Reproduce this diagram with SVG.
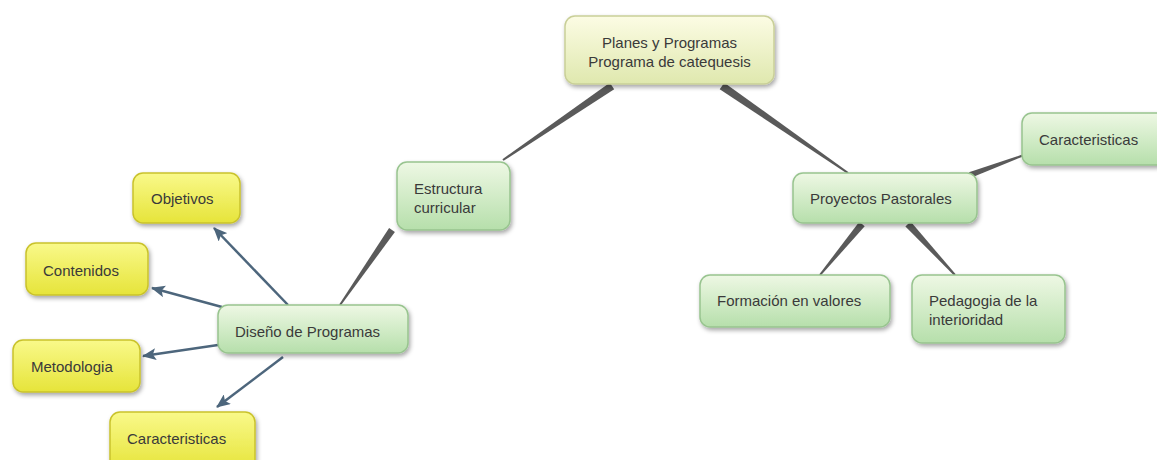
<svg xmlns="http://www.w3.org/2000/svg" width="1157" height="460" viewBox="0 0 1157 460">
<defs>
<linearGradient id="gGreen" x1="0" y1="0" x2="0" y2="1">
<stop offset="0" stop-color="#eef8e4"/>
<stop offset="1" stop-color="#b6dfab"/>
</linearGradient>
<linearGradient id="gYellow" x1="0" y1="0" x2="0" y2="1">
<stop offset="0" stop-color="#f9f98a"/>
<stop offset="1" stop-color="#e6e43a"/>
</linearGradient>
<linearGradient id="gTop" x1="0" y1="0" x2="0" y2="1">
<stop offset="0" stop-color="#fcfce4"/>
<stop offset="1" stop-color="#dfe8ae"/>
</linearGradient>
<filter id="sh" x="-10%" y="-10%" width="125%" height="140%">
<feDropShadow dx="1.5" dy="2.5" stdDeviation="2" flood-color="#000" flood-opacity="0.35"/>
</filter>
<marker id="arr" viewBox="0 0 14 12" refX="13" refY="6" markerWidth="14" markerHeight="12" markerUnits="userSpaceOnUse" orient="auto">
<path d="M0,0 L14,6 L0,12 L3,6 Z" fill="#4d667c"/>
</marker>
<style>
.green{fill:url(#gGreen);stroke:#98c48f;stroke-width:1.5;filter:url(#sh)}
.yellow{fill:url(#gYellow);stroke:#c9c22c;stroke-width:1.5;filter:url(#sh)}
.top{fill:url(#gTop);stroke:#c9cf98;stroke-width:1.5;filter:url(#sh)}
text{font-family:"Liberation Sans",Arial,sans-serif;font-size:15px;fill:#3a3a3a}
.wedge{fill:#5a5a5a}
.arrow{stroke:#4d667c;stroke-width:2.5;fill:none;marker-end:url(#arr)}
</style>
</defs>
<g id="connectors">
<polygon class="wedge" points="614.2,89.3 609.8,82.7 502.4,159.2 503.6,160.8"/>
<polygon class="wedge" points="719.7,89.3 724.3,82.7 848.6,172.2 847.4,173.8"/>
<polygon class="wedge" points="394.9,232 389.1,228 339.2,304.4 340.8,305.6"/>
<polygon class="wedge" points="971,177.8 969,172.2 1023.7,154.1 1024.3,155.9"/>
<polygon class="wedge" points="864.7,226.2 859.3,221.8 819.2,274.4 820.8,275.6"/>
<polygon class="wedge" points="905.4,226.4 910.6,221.6 955.7,274.3 954.3,275.7"/>
<line class="arrow" x1="288" y1="305" x2="214" y2="228"/>
<line class="arrow" x1="222" y1="307" x2="152" y2="288"/>
<line class="arrow" x1="218" y1="345" x2="143" y2="356"/>
<line class="arrow" x1="283" y1="357" x2="217" y2="407"/>
</g>
<g id="planes">
<rect class="top" x="565" y="16" width="209" height="68" rx="10"/>
<text x="669.5" y="48" text-anchor="middle">Planes y Programas</text>
<text x="669.5" y="67" text-anchor="middle">Programa de catequesis</text>
</g>
<g id="estructura">
<rect class="green" x="397" y="162" width="113" height="68" rx="10"/>
<text x="414" y="194">Estructura</text>
<text x="414" y="213">curricular</text>
</g>
<g id="proyectos">
<rect class="green" x="793" y="173" width="184" height="50" rx="10"/>
<text x="810" y="204">Proyectos Pastorales</text>
</g>
<g id="caracteristicas-right">
<rect class="green" x="1022" y="113" width="145" height="52" rx="10"/>
<text x="1039" y="145">Caracteristicas</text>
</g>
<g id="formacion">
<rect class="green" x="700" y="275" width="190" height="52" rx="10"/>
<text x="717" y="306">Formación en valores</text>
</g>
<g id="pedagogia">
<rect class="green" x="912" y="275" width="153" height="68" rx="10"/>
<text x="929" y="306">Pedagogia de la</text>
<text x="929" y="325">interioridad</text>
</g>
<g id="diseno">
<rect class="green" x="218" y="305" width="190" height="48" rx="10"/>
<text x="235" y="337">Diseño de Programas</text>
</g>
<g id="objetivos">
<rect class="yellow" x="133" y="173" width="107" height="50" rx="10"/>
<text x="151" y="204">Objetivos</text>
</g>
<g id="contenidos">
<rect class="yellow" x="26" y="243" width="122" height="52" rx="10"/>
<text x="43" y="276">Contenidos</text>
</g>
<g id="metodologia">
<rect class="yellow" x="13" y="340" width="127" height="52" rx="10"/>
<text x="31" y="372">Metodologia</text>
</g>
<g id="caracteristicas-left">
<rect class="yellow" x="110" y="412" width="145" height="58" rx="10"/>
<text x="127" y="444">Caracteristicas</text>
</g>
</svg>
